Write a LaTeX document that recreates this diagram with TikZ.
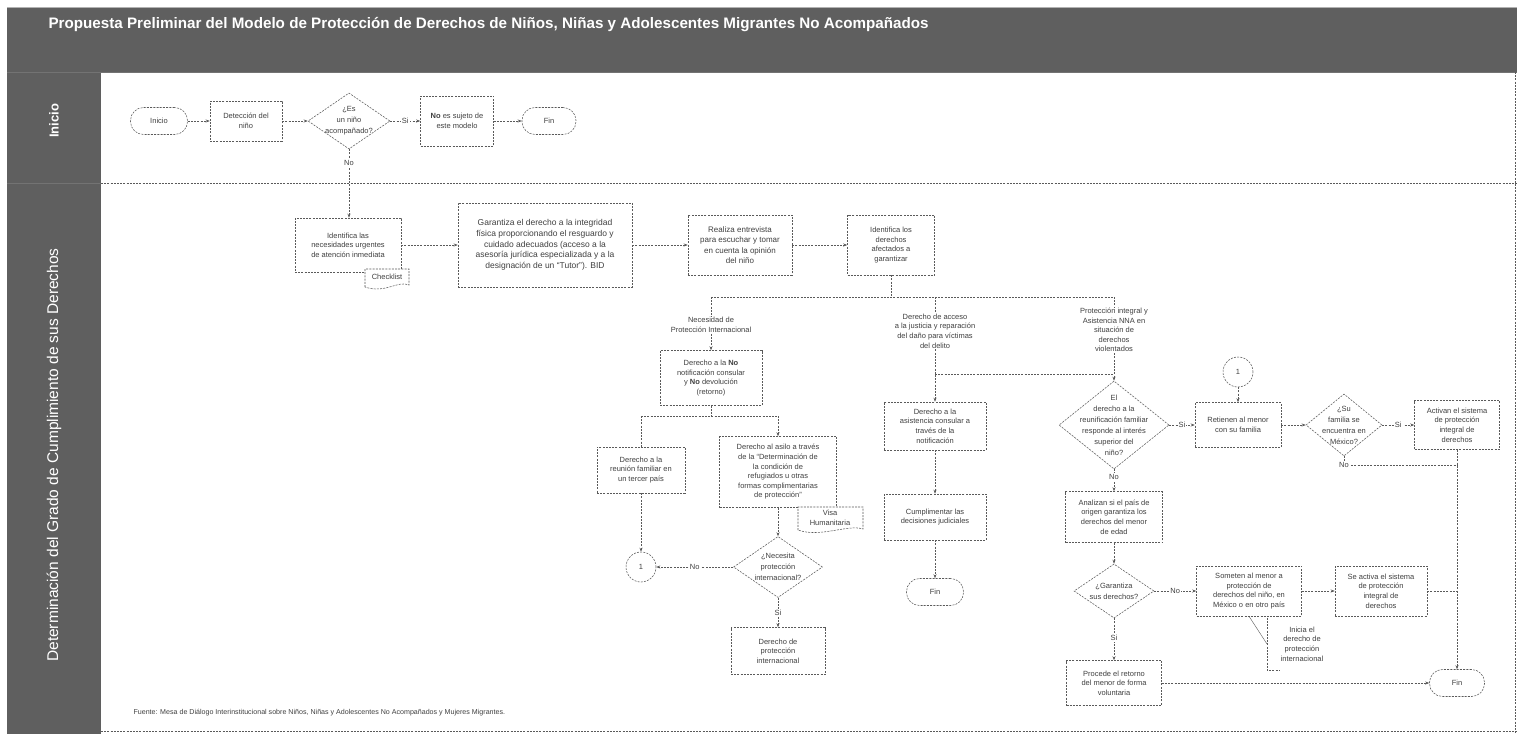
\documentclass[tikz,border=0pt]{standalone}
\usepackage{fontspec}
\setmainfont{Liberation Sans}
\usetikzlibrary{shapes.geometric,arrows.meta,calc}
\definecolor{hdr}{HTML}{5F5F5F}
\definecolor{lc}{HTML}{5A5A5A}
\definecolor{tc}{HTML}{404040}
\newcommand\nf{\fontsize{7.5}{9.6}\selectfont}
\newcommand\df{\fontsize{7.5}{11}\selectfont}
\begin{document}
\begin{tikzpicture}[x=1pt,y=-1pt,
  dsh/.style={dash pattern=on 2pt off 1.2pt, line width=0.55pt, draw=lc},
  box/.style={dsh, draw, rectangle, align=center, font=\nf, text=tc, fill=white, inner sep=1pt},
  term/.style={box, rounded corners=13pt},
  dia/.style={dsh, draw, diamond, fill=white, inner sep=0pt},
  conn/.style={dsh, draw, circle, fill=white, minimum size=30pt, inner sep=0pt, font=\nf, text=tc},
  ln/.style={dsh},
  arr/.style={dsh, -{Stealth[length=4pt,width=3pt]}},
  lbl/.style={fill=white, font=\nf, text=tc, inner sep=1pt},
  txt/.style={font=\nf, text=tc, align=center, inner sep=1pt},
  dtxt/.style={font=\df, text=tc, align=center, inner sep=0pt}]
\useasboundingbox (0,0) rectangle (1517,734);
\fill[white] (0,0) rectangle (1517,734);
% header and lanes
\fill[hdr] (7,7) rectangle (1517,72);
\draw[line width=0.8pt, draw=gray!60] (7,7) -- (1517,7);
\fill[hdr] (7,72) rectangle (101,734);
\draw[line width=0.8pt, draw=black!55] (7,72) -- (1517,72);
\draw[line width=0.8pt, draw=black!55] (7,183) -- (101,183);
\draw[dsh] (101,183) -- (1517,183);
\draw[dsh] (1515,72) -- (1515,734);
\draw[dsh] (101,731) -- (1517,731);
\node[anchor=west, text=white, font=\bfseries\fontsize{15.2}{18}\selectfont] (title) at (45,25)
  {Propuesta Preliminar del Modelo de Protección de Derechos de Niños, Niñas y Adolescentes Migrantes No Acompañados};
\node[rotate=90, text=white, font=\bfseries\fontsize{13}{15}\selectfont] (lane1) at (54,121) {Inicio};
\node[rotate=90, text=white, font=\fontsize{15.5}{18}\selectfont] (lane2) at (54,455) {Determinación del Grado de Cumplimiento de sus Derechos};

% Inicio lane
\node[term, minimum width=57pt, minimum height=27pt] (ini) at (159,121) {Inicio};
\node[box, minimum width=72pt, minimum height=40pt] (det) at (246,121) {Detección del\\niño};
\node[dia, minimum width=82pt, minimum height=56pt] (d1) at (349,121) {};
\node[dtxt] (d1t) at (349,121) {¿Es\\un niño\\acompañado?};
\node[box, minimum width=73pt, minimum height=50pt] (nos) at (457,121) {\textbf{No} es sujeto de\\este modelo};
\node[term, minimum width=54pt, minimum height=27pt] (fin1) at (549,121) {Fin};

% Lane 2 first row
\node[box, minimum width=106pt, minimum height=54pt] (ident) at (348,245) {Identifica las\\necesidades urgentes\\de atención inmediata};
\draw[dsh, fill=white] (365,287) -- (365,269) -- (409,269) -- (409,285) .. controls (398,280) and (385,294) .. (365,287) -- cycle;
\node[txt] (chk) at (387,277) {Checklist};
\node[box, minimum width=174pt, minimum height=84pt, font=\fontsize{8.5}{10.7}\selectfont] (gar) at (545,245)
  {Garantiza el derecho a la integridad\\física proporcionando el resguardo y\\cuidado adecuados (acceso a la\\asesoría jurídica especializada y a la\\designación de un “Tutor”). BID};
\node[box, minimum width=104pt, minimum height=60pt, font=\fontsize{8}{10.5}\selectfont] (real) at (740,245) {Realiza entrevista\\para escuchar y tomar\\en cuenta la opinión\\del niño};
\node[box, minimum width=87pt, minimum height=60pt] (ider) at (891,245) {Identifica los\\derechos\\afectados a\\garantizar};

% branch labels
\coordinate (bL) at (711,297);
\coordinate (bM) at (935,297);
\coordinate (bR) at (1114,297);
\node[txt] (lab1) at (711,325) {Necesidad de\\Protección Internacional};
\node[txt] (lab2) at (935,331) {Derecho de acceso\\a la justicia y reparación\\del daño para víctimas\\del delito};
\node[txt] (lab3) at (1114,330) {Protección integral y\\Asistencia NNA en\\situación de\\derechos\\violentados};

% left column
\node[box, minimum width=102pt, minimum height=55pt] (dno) at (711,378) {Derecho a la \textbf{No}\\notificación consular\\y \textbf{No} devolución\\(retorno)};
\coordinate (sp) at (711,416);
\coordinate (spL) at (641,416);
\coordinate (spR) at (778,416);
\node[box, minimum width=88pt, minimum height=46pt] (reun) at (641,470) {Derecho a la\\reunión familiar en\\un tercer país};
\node[box, minimum width=117pt, minimum height=71pt] (asilo) at (778,472) {Derecho al asilo a través\\de la “Determinación de\\la condición de\\refugiados u otras\\formas complimentarias\\de protección”};
\draw[dsh, fill=white] (798,530) -- (798,507) -- (863,507) -- (863,529) .. controls (848,524) and (820,538) .. (798,530) -- cycle;
\node[txt] (visa) at (830,518) {Visa\\Humanitaria};
\node[conn] (c1) at (641,567) {1};
\node[dia, minimum width=89pt, minimum height=61pt] (d3) at (778,567) {};
\node[dtxt] (d3t) at (778,567) {¿Necesita\\protección\\internacional?};
\node[box, minimum width=94pt, minimum height=47pt] (dpi) at (778,651) {Derecho de\\protección\\internacional};

% middle column
\coordinate (j1) at (935,374);
\coordinate (j2) at (1114,374);
\node[box, minimum width=102pt, minimum height=48pt] (asis) at (935,426) {Derecho a la\\asistencia consular a\\través de la\\notificación};
\node[box, minimum width=102pt, minimum height=46pt] (cump) at (935,517) {Cumplimentar las\\decisiones judiciales};
\node[term, minimum width=57pt, minimum height=27pt] (fin2) at (935,592) {Fin};

% right column
\node[dia, minimum width=110pt, minimum height=88pt] (d2) at (1114,425) {};
\node[dtxt] (d2t) at (1114,425) {El\\derecho a la\\reunificación familiar\\responde al interés\\superior del\\niño?};
\node[conn] (c2) at (1238,372) {1};
\node[box, minimum width=86pt, minimum height=45pt] (ret) at (1238,425) {Retienen al menor\\con su familia};
\node[dia, minimum width=76pt, minimum height=62pt] (d4) at (1344,425) {};
\node[dtxt] (d4t) at (1344,425) {¿Su\\familia se\\encuentra en\\México?};
\node[box, minimum width=85pt, minimum height=49pt] (act) at (1457,425) {Activan el sistema\\de protección\\integral de\\derechos};
\coordinate (jn) at (1457,465);
\node[box, minimum width=97pt, minimum height=51pt] (anal) at (1114,517) {Analizan si el país de\\origen garantiza los\\derechos del menor\\de edad};
\node[dia, minimum width=80pt, minimum height=54pt] (d5) at (1114,591) {};
\node[dtxt] (d5t) at (1114,591) {¿Garantiza\\sus derechos?};
\node[box, minimum width=105pt, minimum height=50pt] (some) at (1249,591) {Someten al menor a\\protección de\\derechos del niño, en\\México o en otro país};
\node[box, minimum width=92pt, minimum height=50pt] (seact) at (1381,591) {Se activa el sistema\\de protección\\integral de\\derechos};
\node[box, minimum width=95pt, minimum height=45pt] (proc) at (1114,683) {Procede el retorno\\del menor de forma\\voluntaria};
\node[term, minimum width=55pt, minimum height=27pt] (fin3) at (1457,683) {Fin};
\coordinate (brk) at (1267,644);
\draw[dsh] (1278,616) -- (1267,616) -- (1267,670) -- (1280,670);
\draw[lc, line width=0.4pt] (some.south) -- (brk);
\node[txt] (ann) at (1302,644) {Inicia el\\derecho de\\protección\\internacional};

% footer
\node[anchor=west, font=\fontsize{7.1}{8.5}\selectfont, text=tc] (foot) at (130,713)
  {Fuente: Mesa de Diálogo Interinstitucional sobre Niños, Niñas y Adolescentes No Acompañados y Mujeres Migrantes.};

% connectors: Inicio lane
\draw[arr] (ini) -- (det);
\draw[arr] (det) -- (d1);
\draw[arr] (d1) -- node[lbl]{Si} (nos);
\draw[arr] (nos) -- (fin1);
\draw[arr] (d1.south) -- node[lbl, pos=0.2]{No} (d1.south |- ident.north);
% first row
\draw[arr] (ident) -- (gar);
\draw[arr] (gar) -- (real);
\draw[arr] (real) -- (ider);
\draw[ln] (ider.south) -- (ider.south |- bM);
\draw[ln] (bL) -- (bR);
\draw[ln] (bL) -- (lab1.north);
\draw[ln] (bM) -- (lab2.north);
\draw[ln] (bR) -- (lab3.north);
% left column
\draw[arr] (lab1.south) -- (dno.north);
\draw[ln] (dno.south) -- (sp);
\draw[ln] (spL) -- (spR);
\draw[ln] (spL) -- (reun.north);
\draw[arr] (spR) -- (asilo.north);
\draw[arr] (reun.south) -- (c1.north);
\draw[arr] (asilo.south) -- (d3.north);
\draw[arr] (d3.west) -- node[lbl]{No} (c1.east);
\draw[arr] (d3.south) -- node[lbl]{Si} (dpi.north);
% middle column
\draw[arr] (lab2.south) -- (asis.north);
\draw[ln] (j1) -- (j2);
\draw[arr] (asis.south) -- (cump.north);
\draw[arr] (cump.south) -- (fin2.north);
% right column
\draw[arr] (lab3.south) -- (d2.north);
\draw[arr] (d2.east) -- node[lbl]{Si} (ret.west);
\draw[arr] (c2.south) -- (ret.north);
\draw[arr] (ret.east) -- (d4.west);
\draw[arr] (d4.east) -- node[lbl]{Si} (act.west);
\draw[ln] (d4.south) |- node[lbl, pos=0.5]{No} (jn);
\draw[arr] (act.south) -- (fin3.north);
\draw[arr] (d2.south) -- node[lbl, pos=0.35]{No} (anal.north);
\draw[arr] (anal.south) -- (d5.north);
\draw[arr] (d5.east) -- node[lbl]{No} (some.west);
\draw[arr] (some.east) -- (seact.west);
\draw[ln] (seact.east) -- (seact.east -| act.south);
\draw[arr] (d5.south) -- node[lbl, pos=0.47]{Si} (proc.north);
\draw[arr] (proc.east) -- (fin3.west);
\end{tikzpicture}
\end{document}
